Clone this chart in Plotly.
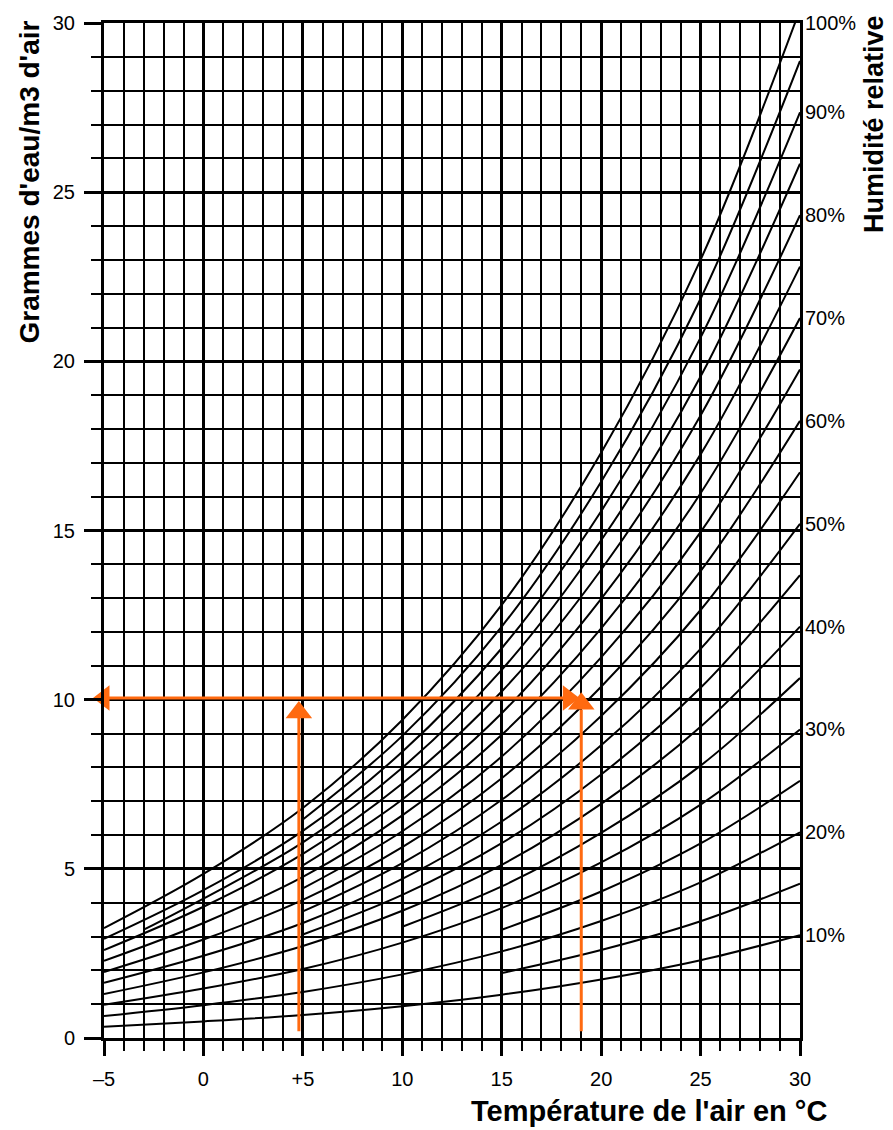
import plotly.graph_objects as go

# Temperatures (°C) at which the humidity curves are read
temps = [-5, 0, 5, 10, 15, 20, 25, 30]

# Water content (g/m3) along each relative-humidity curve
rh100 = [3.25, 4.85, 6.80, 9.40, 12.80, 17.30, 23.00, 30.40]
rh90 = [2.93, 4.37, 6.12, 8.46, 11.52, 15.57, 20.70, 27.36]
rh80 = [2.60, 3.88, 5.44, 7.52, 10.24, 13.84, 18.40, 24.32]
rh70 = [2.28, 3.40, 4.76, 6.58, 8.96, 12.11, 16.10, 21.28]
rh60 = [1.95, 2.91, 4.08, 5.64, 7.68, 10.38, 13.80, 18.24]
rh50 = [1.63, 2.43, 3.40, 4.70, 6.40, 8.65, 11.50, 15.20]
rh40 = [1.30, 1.94, 2.72, 3.76, 5.12, 6.92, 9.20, 12.16]
rh30 = [0.98, 1.46, 2.04, 2.82, 3.84, 5.19, 6.90, 9.12]
rh20 = [0.65, 0.97, 1.36, 1.88, 2.56, 3.46, 4.60, 6.08]
rh10 = [0.33, 0.49, 0.68, 0.94, 1.28, 1.73, 2.30, 3.04]

# Intermediate curves start further right
rh95_t = [5, 10, 15, 20, 25, 30]
rh95 = [6.46, 8.93, 12.16, 16.44, 21.85, 28.88]
rh85_t = [-3, 0, 5, 10, 15, 20, 25, 30]
rh85 = [3.20, 4.12, 5.78, 7.99, 10.88, 14.71, 19.55, 25.84]
rh75_t = [5, 10, 15, 20, 25, 30]
rh75 = [5.10, 7.05, 9.60, 12.98, 17.25, 22.80]
rh65_t = [5, 10, 15, 20, 25, 30]
rh65 = [4.42, 6.11, 8.32, 11.25, 14.95, 19.76]
rh55_t = [5, 10, 15, 20, 25, 30]
rh55 = [3.74, 5.17, 7.04, 9.52, 12.65, 16.72]
rh45_t = [5, 10, 15, 20, 25, 30]
rh45 = [3.06, 4.23, 5.76, 7.79, 10.35, 13.68]
rh35_t = [10, 15, 20, 25, 30]
rh35 = [3.29, 4.48, 6.06, 8.05, 10.64]
rh25_t = [15, 20, 25, 30]
rh25 = [3.20, 4.33, 5.75, 7.60]
rh15_t = [15, 20, 25, 30]
rh15 = [1.92, 2.60, 3.45, 4.56]

main_curves = [
    ("100%", rh100), ("90%", rh90), ("80%", rh80), ("70%", rh70), ("60%", rh60),
    ("50%", rh50), ("40%", rh40), ("30%", rh30), ("20%", rh20), ("10%", rh10),
]
half_curves = [
    (rh95_t, rh95), (rh85_t, rh85), (rh75_t, rh75), (rh65_t, rh65), (rh55_t, rh55),
    (rh45_t, rh45), (rh35_t, rh35), (rh25_t, rh25), (rh15_t, rh15),
]

# Worked example: 10 g/m3 of water, read at +5 °C and at 19 °C
example_water = 10.05
example_t_low = 4.8
example_t_high = 19.0
example_floor = 0.2

x_tickvals = [-5, 0, 5, 10, 15, 20, 25, 30]
x_ticktext = ["\u20135", "0", "+5", "10", "15", "20", "25", "30"]
y_tickvals = [0, 5, 10, 15, 20, 25, 30]

ORANGE = "#ff6a10"
FONT = "Liberation Sans, Arial, Helvetica, sans-serif"

fig = go.Figure()

for label, vals in main_curves:
    fig.add_trace(go.Scatter(x=temps, y=vals, mode="lines",
                             line=dict(color="black", width=2, shape="spline"),
                             hoverinfo="skip", showlegend=False))
for tx, vals in half_curves:
    fig.add_trace(go.Scatter(x=tx, y=vals, mode="lines",
                             line=dict(color="black", width=2, shape="spline"),
                             hoverinfo="skip", showlegend=False))

# Orange guide lines
fig.add_trace(go.Scatter(x=[-5, 18.2], y=[example_water, example_water], mode="lines",
                         line=dict(color=ORANGE, width=3), hoverinfo="skip",
                         showlegend=False, cliponaxis=False))
for t in (example_t_low, example_t_high):
    fig.add_trace(go.Scatter(x=[t, t], y=[example_floor, 9.7], mode="lines",
                             line=dict(color=ORANGE, width=3), hoverinfo="skip",
                             showlegend=False))

# Arrow heads
fig.add_trace(go.Scatter(x=[-5.0], y=[example_water], mode="markers",
                         marker=dict(symbol="triangle-left", size=22, color=ORANGE,
                                     line=dict(width=0)),
                         hoverinfo="skip", showlegend=False, cliponaxis=False))
fig.add_trace(go.Scatter(x=[18.35], y=[example_water], mode="markers",
                         marker=dict(symbol="triangle-right", size=22, color=ORANGE,
                                     line=dict(width=0)),
                         hoverinfo="skip", showlegend=False, cliponaxis=False))
fig.add_trace(go.Scatter(x=[example_t_low, example_t_high], y=[9.62, 9.88], mode="markers",
                         marker=dict(symbol="triangle-up", size=23, color=ORANGE,
                                     line=dict(width=0)),
                         hoverinfo="skip", showlegend=False, cliponaxis=False))

# Relative-humidity labels at the right-hand end of each curve
for label, vals in main_curves:
    fig.add_annotation(x=30, y=min(vals[-1], 30), xref="x", yref="y", text=label,
                       showarrow=False, xanchor="left", yanchor="middle", xshift=3,
                       font=dict(family=FONT, size=20, color="black"))

# Axis titles
fig.add_annotation(xref="paper", yref="paper", x=(30 - 104) / 696, y=1 + 4 / 1020,
                   text="Grammes d'eau/m3 d'air", textangle=-90, showarrow=False,
                   xanchor="center", yanchor="top",
                   font=dict(family=FONT, size=28, color="black", weight="bold"))
fig.add_annotation(xref="paper", yref="paper", x=(874 - 104) / 696, y=1 + 10 / 1020,
                   text="Humidité relative", textangle=-90, showarrow=False,
                   xanchor="center", yanchor="top",
                   font=dict(family=FONT, size=27, color="black", weight="bold"))
fig.add_annotation(xref="paper", yref="paper", x=(829 - 104) / 696, y=-(1111 - 1038) / 1020,
                   text="Température de l'air en °C", showarrow=False,
                   xanchor="right", yanchor="middle",
                   font=dict(family=FONT, size=29, color="black", weight="bold"))

axis_common = dict(
    showgrid=True, gridcolor="black", gridwidth=3,
    showline=True, linecolor="black", linewidth=3, mirror=True,
    zeroline=False, ticks="outside", tickcolor="black", tickwidth=3,
    tickfont=dict(family=FONT, size=20, color="black"),
)

fig.update_xaxes(range=[-5, 30], tickvals=x_tickvals, ticktext=x_ticktext,
                 ticklen=15, ticklabelstandoff=6,
                 minor=dict(dtick=1, tick0=0, showgrid=True, gridcolor="black", gridwidth=2,
                            ticks="outside", ticklen=10, tickcolor="black", tickwidth=2),
                 **axis_common)
fig.update_yaxes(range=[0, 30], tickvals=y_tickvals,
                 ticklen=17, ticklabelstandoff=5,
                 minor=dict(dtick=1, tick0=0, showgrid=True, gridcolor="black", gridwidth=2,
                            ticks="outside", ticklen=10, tickcolor="black", tickwidth=2),
                 **axis_common)

fig.update_layout(
    width=893, height=1130,
    margin=dict(l=104, r=93, t=18, b=92),
    plot_bgcolor="white", paper_bgcolor="white",
    font=dict(family=FONT, color="black"),
    showlegend=False,
)

fig.write_html("out.html")
